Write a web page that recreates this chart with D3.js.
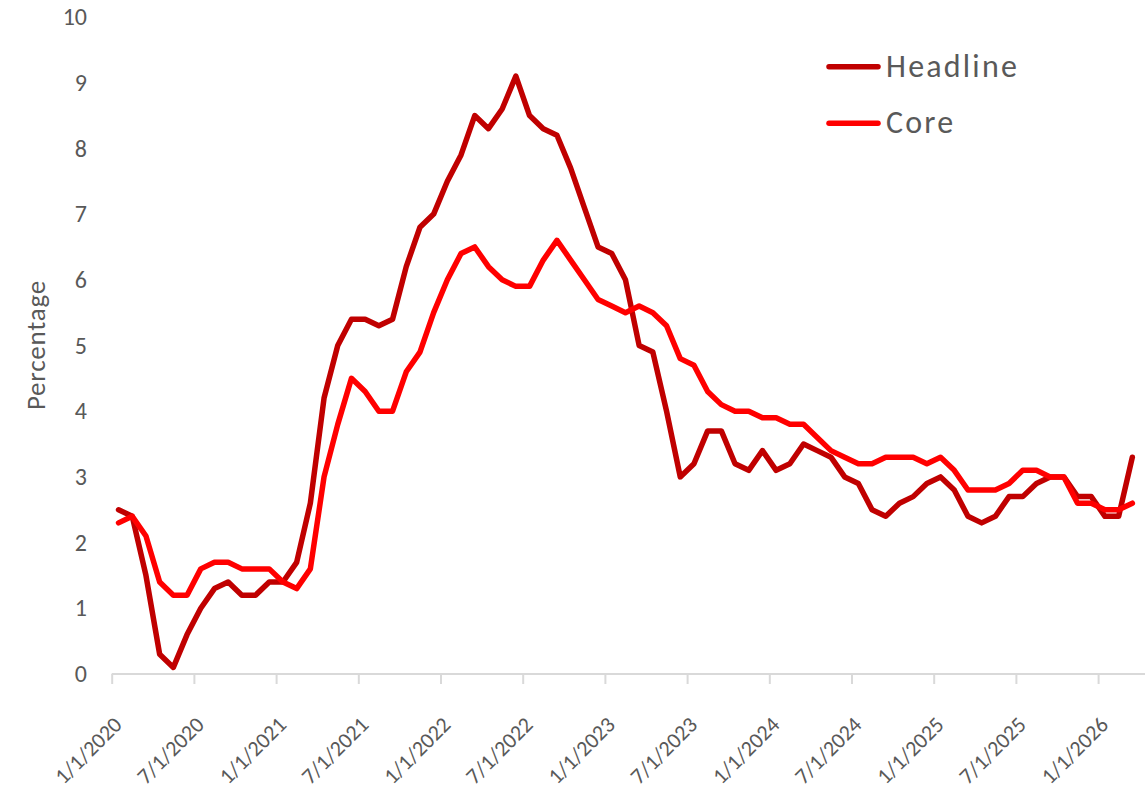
<!DOCTYPE html>
<html><head><meta charset="utf-8">
<script src="https://cdn.jsdelivr.net/npm/d3@7"></script>
<style>body{margin:0;background:#fff}svg{display:block}text{font-family:Carlito,Lato,"Open Sans",sans-serif}</style>
</head><body><svg id="c" width="1145" height="791"></svg>
<script>
const startMonth = "2020-01-01";
const headline = [2.5,2.4,1.5,0.3,0.1,0.6,1.0,1.3,1.4,1.2,1.2,1.4,
  1.4,1.7,2.6,4.2,5.0,5.4,5.4,5.3,5.4,6.2,6.8,7.0,
  7.5,7.9,8.5,8.3,8.6,9.1,8.5,8.3,8.2,7.7,7.1,6.5,
  6.4,6.0,5.0,4.9,4.0,3.0,3.2,3.7,3.7,3.2,3.1,3.4,
  3.1,3.2,3.5,3.4,3.3,3.0,2.9,2.5,2.4,2.6,2.7,2.9,
  3.0,2.8,2.4,2.3,2.4,2.7,2.7,2.9,3.0,3.0,2.7,2.7,
  2.4,2.4,3.3];
const core = [2.3,2.4,2.1,1.4,1.2,1.2,1.6,1.7,1.7,1.6,1.6,1.6,
  1.4,1.3,1.6,3.0,3.8,4.5,4.3,4.0,4.0,4.6,4.9,5.5,
  6.0,6.4,6.5,6.2,6.0,5.9,5.9,6.3,6.6,6.3,6.0,5.7,
  5.6,5.5,5.6,5.5,5.3,4.8,4.7,4.3,4.1,4.0,4.0,3.9,
  3.9,3.8,3.8,3.6,3.4,3.3,3.2,3.2,3.3,3.3,3.3,3.2,
  3.3,3.1,2.8,2.8,2.8,2.9,3.1,3.1,3.0,3.0,2.6,2.6,
  2.5,2.5,2.6];
const xTickLabels = ["1/1/2020","7/1/2020","1/1/2021","7/1/2021","1/1/2022","7/1/2022","1/1/2023","7/1/2023","1/1/2024","7/1/2024","1/1/2025","7/1/2025","1/1/2026"];
const yTicks = [0,1,2,3,4,5,6,7,8,9,10];
const seriesNames = ["Headline","Core"];
const seriesColors = ["#c00000","#ff0000"];

// month-slot axis (Excel date axis, base unit = months, between tick marks)
const t0 = d3.timeParse("%Y-%m-%d")(startMonth);
const parse = d3.timeParse("%m/%d/%Y");
const monthIdx = d => d3.timeMonth.count(t0, d);
const nSlots = headline.length;

const svg = d3.select("#c");
const x = d3.scaleLinear().domain([0, nSlots]).range([111.7, 111.7 + nSlots * 13.7]);
const y = d3.scaleLinear().domain([0, 10]).range([674, 17]);

// x axis
const tickIdx = xTickLabels.map(s => monthIdx(parse(s)));
const xAxis = d3.axisBottom(x).tickValues(tickIdx).tickSize(10).tickFormat((d, i) => xTickLabels[i]);
const gx = svg.append("g").attr("transform", `translate(0,${y(0)})`).call(xAxis);
gx.select(".domain").attr("stroke", "#d9d9d9").attr("stroke-width", 2).attr("d", `M${x.range()[0]},0H1145`);
gx.selectAll(".tick line").attr("stroke", "#d9d9d9").attr("stroke-width", 2);
gx.selectAll(".tick text").attr("fill", "#595959").attr("font-size", 22)
  .attr("text-anchor", "end").attr("dy", 0).attr("y", 0)
  .attr("transform", "translate(11,52) rotate(-45)");

// y axis labels
const gy = svg.append("g").attr("transform", "translate(87,0)")
  .call(d3.axisLeft(y).tickValues(yTicks).tickSize(0).tickPadding(0));
gy.select(".domain").remove();
gy.selectAll(".tick text").attr("fill", "#595959").attr("font-size", 24);

svg.append("text").attr("transform", "translate(45,345) rotate(-90)")
  .attr("text-anchor", "middle").attr("fill", "#595959").attr("font-size", 27)
  .attr("letter-spacing", 0.8).text("Percentage");

const line = d3.line().x((d, i) => x(i + 0.5)).y(d => y(d));
[headline, core].forEach((s, k) => {
  svg.append("path").datum(s).attr("d", line).attr("fill", "none")
    .attr("stroke", seriesColors[k]).attr("stroke-width", 5.5)
    .attr("stroke-linejoin", "round").attr("stroke-linecap", "round");
});

// legend
seriesNames.forEach((n, k) => {
  const ly = 66.7 + k * 56.6;
  svg.append("line").attr("x1", 829).attr("x2", 878).attr("y1", ly).attr("y2", ly)
    .attr("stroke", seriesColors[k]).attr("stroke-width", 5.5).attr("stroke-linecap", "round");
  svg.append("text").attr("x", 886).attr("y", ly + 10).attr("fill", "#595959")
    .attr("font-size", 32).attr("letter-spacing", 2.2).text(n);
});
</script></body></html>
